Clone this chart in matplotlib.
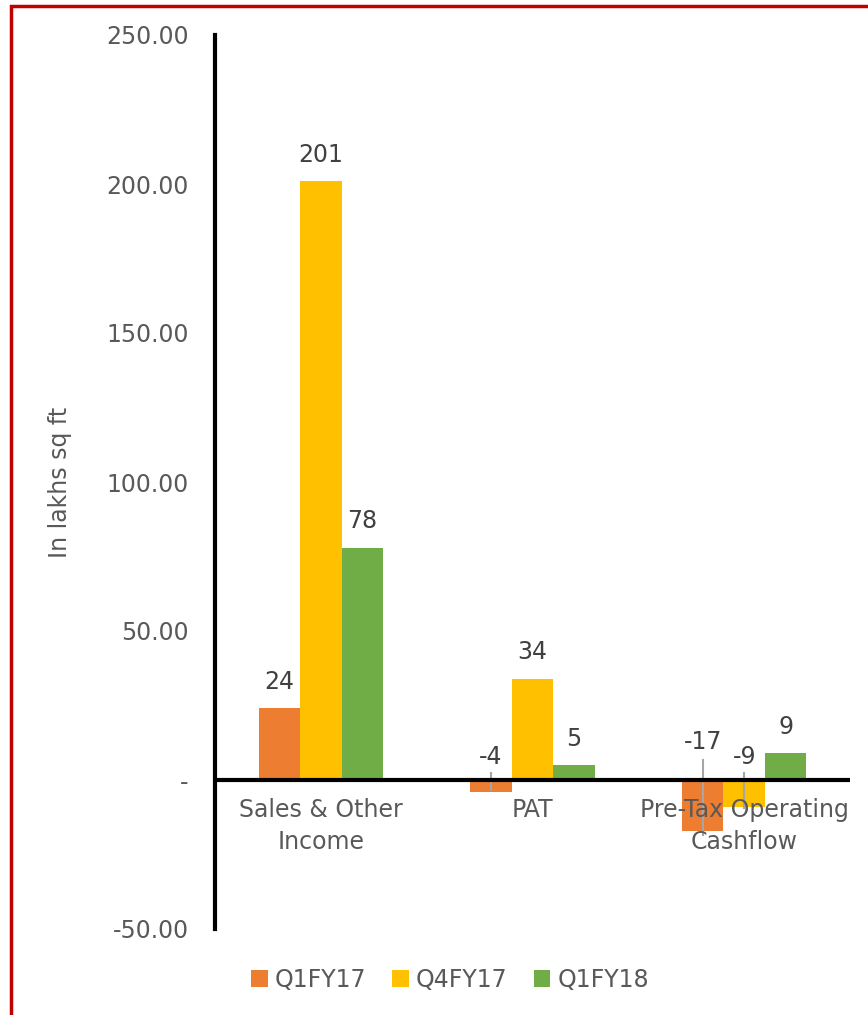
import matplotlib
matplotlib.use("Agg")
from matplotlib import pyplot as plt
from matplotlib.patches import Rectangle
import numpy as np

categories = ["Sales & Other\nIncome", "PAT", "Pre-Tax Operating\nCashflow"]
series_names = ["Q1FY17", "Q4FY17", "Q1FY18"]
q1fy17 = [24, -4, -17]
q4fy17 = [201, 34, -9]
q1fy18 = [78, 5, 9]
yticks = [-50, 0, 50, 100, 150, 200, 250]
ytick_labels = ["-50.00", "-", "50.00", "100.00", "150.00", "200.00", "250.00"]
colors = ["#ED7D31", "#FFC000", "#70AD47"]
gray = "#595959"

fig = plt.figure(figsize=(8.68, 10.15), dpi=100)
ax = fig.add_axes([215 / 868, 1 - 929 / 1015, 635 / 868, 894 / 1015])

x = np.arange(len(categories))
w = 0.196
all_series = [q1fy17, q4fy17, q1fy18]
for i, (vals, name) in enumerate(zip(all_series, series_names)):
    ax.bar(x + (i - 1) * w, vals, width=w, color=colors[i], label=name, zorder=2)

# data labels, positive values above bar top
for i, vals in enumerate(all_series):
    for j, v in enumerate(vals):
        xc = x[j] + (i - 1) * w
        if v >= 0:
            ax.annotate(str(v), (xc, v), xytext=(0, 19), textcoords="offset points",
                        ha="center", va="center", fontsize=17, color="#404040")

# negative labels with leader lines
neg_labels = [
    # (series, category, label_y, line_top, line_bottom)
    (0, 1, 7.7, 2.3, -3.5),
    (0, 2, 12.8, 6.7, -18.5),
    (1, 2, 7.7, 2.3, -9.4),
]
for i, j, ly, top, bot in neg_labels:
    xc = x[j] + (i - 1) * w
    ax.text(xc, ly, str(all_series[i][j]), ha="center", va="center",
            fontsize=17, color="#404040", zorder=4)
    ax.plot([xc, xc], [top, bot], color="#A6A6A6", lw=1.5, zorder=3)

ax.set_xlim(-0.5, 2.5)
ax.set_ylim(-50, 250)
ax.axhline(0, color="black", lw=3, zorder=3)
for s in ["top", "right", "bottom"]:
    ax.spines[s].set_visible(False)
ax.spines["left"].set_linewidth(3)
ax.set_yticks(yticks)
ax.set_yticklabels(ytick_labels, fontsize=17, color=gray)
ax.tick_params(axis="y", length=0, pad=19)
ax.set_xticks([])

for j, c in enumerate(categories):
    ax.text(x[j], -6, c, ha="center", va="top", fontsize=17, color=gray,
            linespacing=1.45, zorder=5)

fig.text(60 / 868, 1 - 482 / 1015, "In lakhs sq ft", rotation=90, ha="center",
         va="center", fontsize=17, color=gray)

fig.legend(loc="center", bbox_to_anchor=(450 / 868, 1 - 980 / 1015), ncol=3,
           frameon=False, fontsize=17, labelcolor=gray, handlelength=0.7,
           handleheight=0.7, handletextpad=0.3, columnspacing=1.1)

# red frame on top and left edges
fig.patches.append(Rectangle((11 / 868, -0.01), 1.1, 1 - 6 / 1015 + 0.01,
                             transform=fig.transFigure, fill=False,
                             edgecolor="#C00000", lw=2.5))

fig.savefig("out.png", dpi=100)
